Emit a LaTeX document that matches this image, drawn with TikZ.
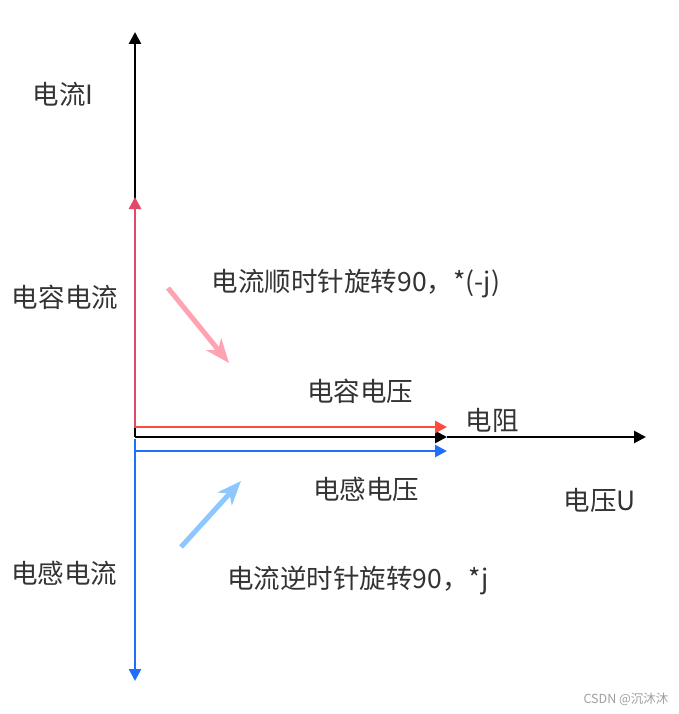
\documentclass[tikz,border=0pt]{standalone}
\usepackage{fontspec}
\setmainfont{Noto Sans CJK SC}
\usetikzlibrary{arrows.meta}
\definecolor{axisblack}{HTML}{000000}
\definecolor{capred}{HTML}{E0496A}
\definecolor{vred}{HTML}{FF4A3D}
\definecolor{indblue}{HTML}{1F6FFF}
\definecolor{hintpink}{HTML}{FFA3B3}
\definecolor{hintblue}{HTML}{8CC8FF}
\definecolor{wmgray}{HTML}{A0A0A0}
\definecolor{txtgray}{HTML}{333333}
\tikzset{
  vec/.style={line width=2.6pt,-{Triangle[length=12pt,width=12pt]}},
  hint/.style={line width=5pt,-{Stealth[length=24pt,width=19pt,inset=7pt]}},
  lbl/.style={font=\fontsize{26.5}{30}\selectfont,text=txtgray,inner sep=0pt},
}
\begin{document}
\begin{tikzpicture}[x=1pt,y=-1pt]
\useasboundingbox[fill=white] (0,0) rectangle (678,714);
% key points
\coordinate (O) at (135,437);
\coordinate (Itop) at (135,32);
\coordinate (Ctop) at (135,197);
\coordinate (Cbase) at (135,428);
\coordinate (Lbot) at (135,681);
\coordinate (Lbase) at (135,439);
\coordinate (Rmid) at (447,437);
\coordinate (Rend) at (646,437);
\coordinate (VCs) at (135,427);
\coordinate (VCe) at (447,427);
\coordinate (VLs) at (135,451);
\coordinate (VLe) at (447,451);
\coordinate (Ps) at (168,288);
\coordinate (Pe) at (229,363);
\coordinate (Bs) at (181,547);
\coordinate (Be) at (241,481);
% current axis
\draw[vec,axisblack] (O) -- (Itop);
\draw[vec,capred] (Cbase) -- (Ctop);
\draw[vec,indblue] (Lbase) -- (Lbot);
% voltage axis
\draw[vec,axisblack] (O) -- (Rmid);
\draw[vec,axisblack] (Rmid) -- (Rend);
\draw[vec,vred] (VCs) -- (VCe);
\draw[vec,indblue] (VLs) -- (VLe);
% hint arrows
\draw[hint,hintpink] (Ps) -- (Pe);
\draw[hint,hintblue] (Bs) -- (Be);
% labels
\node[lbl] (tI) at (63,94) {电流I};
\node[lbl] (tCI) at (65,297) {电容电流};
\node[lbl] (tCW) at (356,284) {电流顺时针旋转90，*(-j)};
\node[lbl] (tCV) at (360,391) {电容电压};
\node[lbl] (tR) at (492,420) {电阻};
\node[lbl] (tLV) at (366,489) {电感电压};
\node[lbl] (tU) at (600,500) {电压U};
\node[lbl] (tLI) at (64,573) {电感电流};
\node[lbl] (tCCW) at (358,580) {电流逆时针旋转90，*j};
\node[font=\fontsize{12.5}{14}\selectfont,text=wmgray,inner sep=0pt] (wm) at (626,699) {CSDN @沉沐沐};
\end{tikzpicture}
\end{document}
